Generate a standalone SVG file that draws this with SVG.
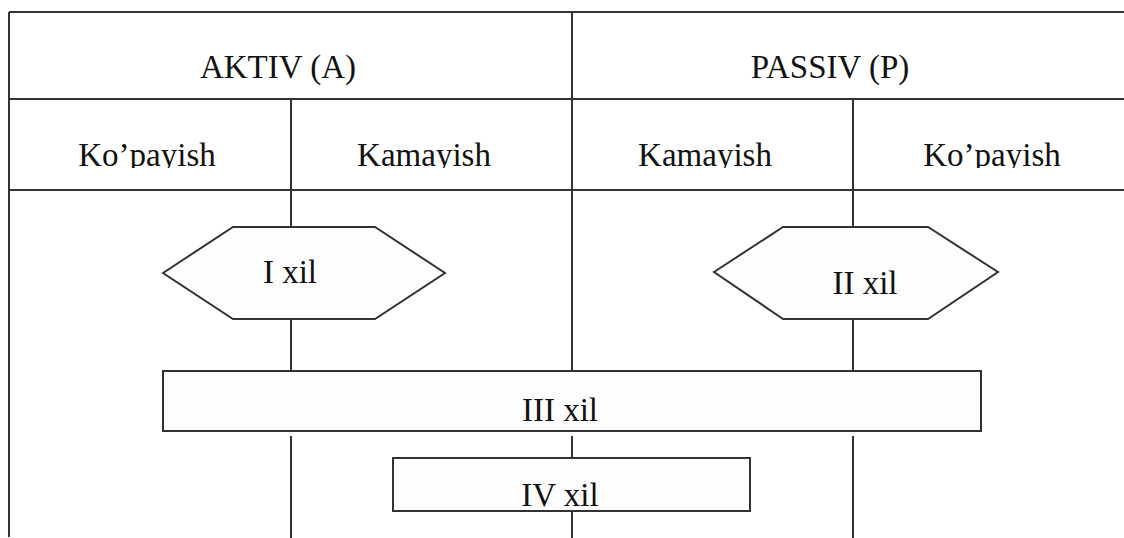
<svg xmlns="http://www.w3.org/2000/svg" width="1124" height="538" viewBox="0 0 1124 538">
<style>
.ln{stroke:#333;stroke-width:2;fill:none}
.shape{stroke:#333;stroke-width:2;fill:#fdfdfd}
.t{font-family:"Liberation Serif","Times New Roman",serif;font-size:33px;fill:#111;text-anchor:middle}
</style>
<defs>
<clipPath id="cl1"><rect x="0" y="100" width="1124" height="68"/></clipPath>
</defs>
<rect width="1124" height="538" fill="#fff"/>
<g id="connectors">
<line class="ln" x1="9" y1="12" x2="1124" y2="12"/>
<line class="ln" x1="9" y1="12" x2="9" y2="537"/>
<line class="ln" x1="9" y1="99" x2="1124" y2="99"/>
<line class="ln" x1="9" y1="190" x2="1124" y2="190"/>
<line class="ln" x1="572" y1="12" x2="572" y2="372"/>
<line class="ln" x1="572" y1="436" x2="572" y2="458"/>
<line class="ln" x1="572" y1="511" x2="572" y2="538"/>
<line class="ln" x1="291" y1="99" x2="291" y2="227"/>
<line class="ln" x1="291" y1="319" x2="291" y2="374"/>
<line class="ln" x1="291" y1="436" x2="291" y2="538"/>
<line class="ln" x1="853" y1="99" x2="853" y2="227"/>
<line class="ln" x1="853" y1="319" x2="853" y2="374"/>
<line class="ln" x1="853" y1="436" x2="853" y2="538"/>
</g>
<g id="header-aktiv"><text class="t" x="278" y="78">AKTIV (A)</text></g>
<g id="header-passiv"><text class="t" x="830" y="78">PASSIV (P)</text></g>
<g id="col-a-kopayish"><text class="t" x="147" y="166" clip-path="url(#cl1)">Ko’payish</text></g>
<g id="col-a-kamayish"><text class="t" x="424" y="166" clip-path="url(#cl1)">Kamayish</text></g>
<g id="col-p-kamayish"><text class="t" x="705" y="166" clip-path="url(#cl1)">Kamayish</text></g>
<g id="col-p-kopayish"><text class="t" x="992" y="166" clip-path="url(#cl1)">Ko’payish</text></g>
<g id="node-i">
<polygon class="shape" points="163,273 233,227 375,227 445,273 375,319 233,319"/>
<text class="t" x="290" y="283">I xil</text>
</g>
<g id="node-ii">
<polygon class="shape" points="714,272 783,227 928,227 998,272 928,319 783,319"/>
<text class="t" x="865" y="294">II xil</text>
</g>
<g id="node-iii">
<rect class="shape" x="163" y="371" width="818" height="60"/>
<text class="t" x="560" y="421">III xil</text>
</g>
<g id="node-iv">
<rect class="shape" x="393" y="458" width="357" height="53"/>
<text class="t" x="560" y="506">IV xil</text>
</g>
</svg>
